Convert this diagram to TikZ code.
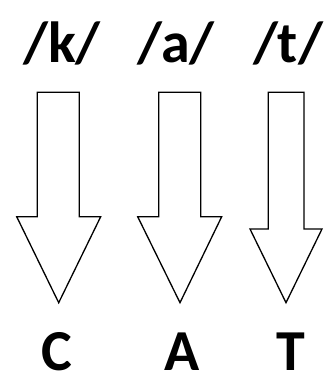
\documentclass[tikz,border=0pt]{standalone}
\usepackage{fontspec}
\setmainfont{Carlito}
\begin{document}
\begin{tikzpicture}[x=1pt,y=1pt,
  lbl/.style={font=\fontsize{58}{60}\selectfont\bfseries, anchor=base, inner sep=0pt},
  caplbl/.style={lbl, text depth=0pt},
  arr/.style={draw=black, line width=1.3pt, line join=miter, fill=white}]
\useasboundingbox (0,0) rectangle (328,378);
\node[lbl] (k) at (62,315) {/k/};
\node[lbl] (a) at (176,315) {/a/};
\node[lbl] (t) at (288,315) {/t/};
\draw[arr] (37.3,285.7) -- (79.3,285.7) -- (79.3,161.3) -- (100.7,161.3) -- (58.7,75.3) -- (16.7,161.3) -- (37.3,161.3) -- cycle;
\draw[arr] (158.7,285.7) -- (200.7,285.7) -- (200.7,161.3) -- (221.7,161.3) -- (180,75.3) -- (137.7,161.3) -- (158.7,161.3) -- cycle;
\draw[arr] (268.3,285.7) -- (304,285.7) -- (304,149) -- (322,149) -- (286,75.3) -- (250,149) -- (268.3,149) -- cycle;
\node[caplbl] (C) at (57,7.5) {C};
\node[caplbl] (A) at (181.7,7.5) {A};
\node[caplbl] (T) at (291,7.5) {T};
\end{tikzpicture}
\end{document}
